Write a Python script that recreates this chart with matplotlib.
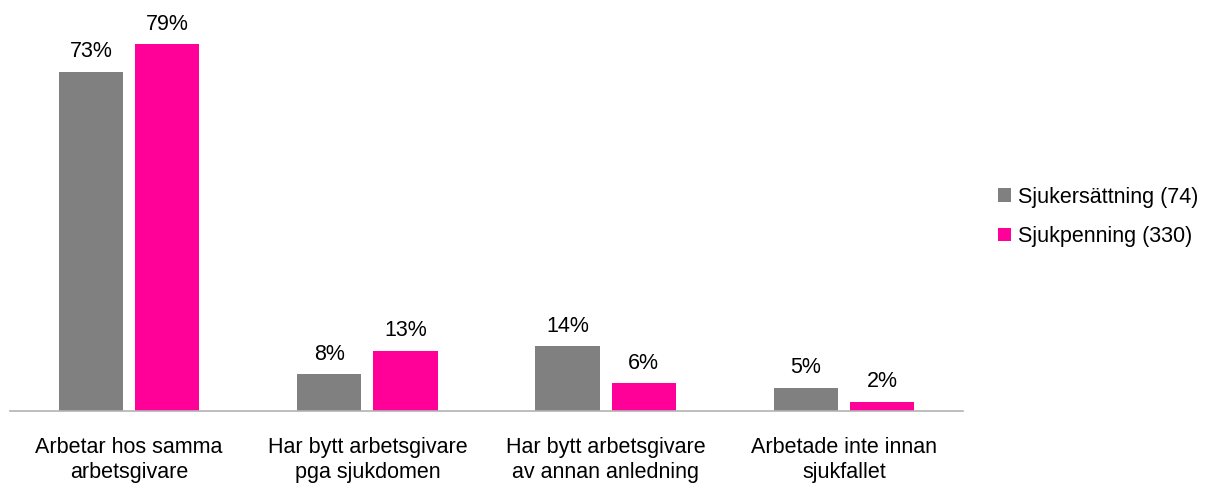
import matplotlib.pyplot as plt
import numpy as np

plt.rcParams['font.family'] = ['Liberation Sans', 'DejaVu Sans']

GRAY = "#808080"
PINK = "#FF0099"

categories = ["Arbetar hos samma\narbetsgivare",
              "Har bytt arbetsgivare\npga sjukdomen",
              "Har bytt arbetsgivare\nav annan anledning",
              "Arbetade inte innan\nsjukfallet"]
sjukersattning = [73, 8, 14, 5]
sjukpenning = [79, 13, 6, 2]
series_names = ["Sjukersättning (74)", "Sjukpenning (330)"]

FS = 15.5

fig = plt.figure(figsize=(12.10, 4.87), dpi=100)
ax = fig.add_axes([10 / 1210, 76 / 487, 953 / 1210, 395 / 487])

x = np.arange(len(categories))
w = 0.27
off = 0.16
b1 = ax.bar(x - off, sjukersattning, w, color=GRAY, label=series_names[0])
b2 = ax.bar(x + off, sjukpenning, w, color=PINK, label=series_names[1])

for bars, vals in ((b1, sjukersattning), (b2, sjukpenning)):
    for r, v in zip(bars, vals):
        ax.text(r.get_x() + r.get_width() / 2, v + 2.0, f"{v}%",
                ha="center", va="bottom", fontsize=FS, color="#000000")

ax.set_xlim(-0.5, 3.5)
ax.set_ylim(0, 85)
ax.set_xticks(x)
ax.set_xticklabels(categories, fontsize=FS, linespacing=1.2)
ax.tick_params(axis="x", length=0, pad=19)
ax.set_yticks([])
for s in ("top", "right", "left"):
    ax.spines[s].set_visible(False)
ax.spines["bottom"].set_color("#b3b3b3")
ax.spines["bottom"].set_linewidth(1.2)

fig.legend(loc="center left", bbox_to_anchor=(979 / 1210, 1 - 217 / 487),
           frameon=False, fontsize=FS, handlelength=0.6, handleheight=0.6,
           handletextpad=0.3, labelspacing=0.85)

fig.savefig("out.png", dpi=100, facecolor="white")
